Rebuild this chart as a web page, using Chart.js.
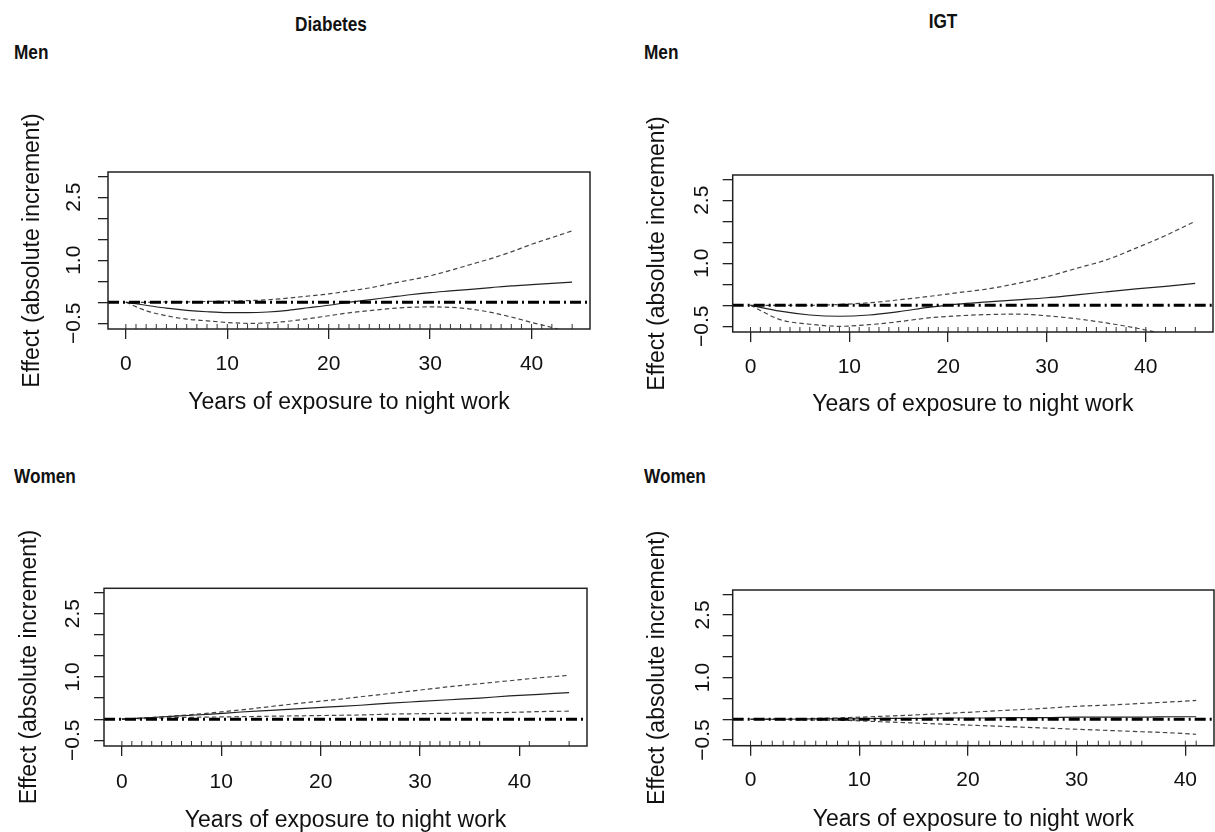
<!DOCTYPE html>
<html>
<head>
<meta charset="utf-8">
<script src="https://cdn.jsdelivr.net/npm/chart.js@4.4.1/dist/chart.umd.min.js"></script>
<style>
  body { margin: 0; background: #fff; width: 1215px; height: 832px; position: relative; overflow: hidden; }
  .lbl { position: absolute; font-family: "Liberation Sans", Arial, sans-serif; font-weight: bold; font-size: 21px; line-height: 21px; color: #111; white-space: nowrap; transform: scaleX(0.82); transform-origin: left center; }
  .ctr { transform-origin: center center; text-align: center; width: 200px; }
  .panel { position: absolute; }
</style>
</head>
<body>
<div class="lbl ctr" style="left:231px; top:13px">Diabetes</div>
<div class="lbl ctr" style="left:843px; top:10px">IGT</div>
<div class="lbl" style="left:14px; top:41px">Men</div>
<div class="lbl" style="left:644px; top:41px">Men</div>
<div class="lbl" style="left:14px; top:465px">Women</div>
<div class="lbl" style="left:644px; top:465px">Women</div>

<div class="panel" style="left:0px; top:100px; width:607px; height:330px"><canvas id="dm"></canvas></div>
<div class="panel" style="left:625px; top:100px; width:590px; height:332px"><canvas id="im"></canvas></div>
<div class="panel" style="left:0px; top:520px; width:600px; height:320px"><canvas id="dw"></canvas></div>
<div class="panel" style="left:625px; top:520px; width:590px; height:320px"><canvas id="iw"></canvas></div>

<script>
// axis values shared by all four panels
const yTicks = [-0.5, 0, 0.5, 1.0, 1.5, 2.0, 2.5, 3.0];
const yTickLabels = ['\u22120.5', '', '', '1.0', '', '', '2.5', ''];
const xTicks = [0, 10, 20, 30, 40];
const yMin = -0.635;
const yMax = 3.1;
const refLine = 0;

// Diabetes, men
const dmYears = [0, 2, 4, 6, 8, 10, 12, 14, 16, 18, 20, 22, 24, 26, 28, 30, 32, 34, 36, 38, 40, 42, 44];
const dmFit = [0, -0.07, -0.14, -0.19, -0.225, -0.245, -0.245, -0.23, -0.19, -0.13, -0.07, 0.0, 0.06, 0.12, 0.18, 0.23, 0.27, 0.31, 0.35, 0.39, 0.42, 0.45, 0.48];
const dmUpper = [0, 0.0, 0.01, 0.01, 0.02, 0.03, 0.04, 0.06, 0.1, 0.15, 0.2, 0.27, 0.34, 0.44, 0.53, 0.63, 0.76, 0.9, 1.04, 1.2, 1.38, 1.54, 1.7];
const dmLower = [0, -0.2, -0.32, -0.4, -0.44, -0.48, -0.5, -0.49, -0.45, -0.39, -0.32, -0.25, -0.2, -0.15, -0.12, -0.11, -0.12, -0.16, -0.24, -0.35, -0.48, -0.6, -0.74];
const dmRug = [0, 1, 2, 3, 4, 5, 6, 7, 8, 9, 10, 11, 12, 13, 14, 15, 16, 17, 18, 19, 20, 21, 22, 23, 24, 25, 26, 27, 28, 29, 30, 31, 32, 33, 34, 35, 36, 37, 38, 39, 40, 41, 42, 44];

// IGT, men
const imYears = [0, 3, 6, 9, 12, 15, 18, 21, 24, 27, 30, 33, 36, 39, 42, 45];
const imFit = [0, -0.14, -0.23, -0.26, -0.23, -0.15, -0.05, 0.03, 0.08, 0.13, 0.18, 0.25, 0.32, 0.39, 0.45, 0.52];
const imUpper = [0, 0.0, 0.0, 0.02, 0.06, 0.13, 0.21, 0.3, 0.39, 0.52, 0.68, 0.88, 1.08, 1.36, 1.66, 2.0];
const imLower = [0, -0.34, -0.45, -0.5, -0.46, -0.39, -0.3, -0.25, -0.22, -0.21, -0.25, -0.32, -0.42, -0.54, -0.7, -0.92];
const imRug = [0, 1, 2, 3, 4, 5, 6, 7, 8, 9, 10, 11, 12, 13, 14, 15, 16, 17, 18, 19, 20, 21, 22, 23, 24, 25, 26, 27, 28, 29, 30, 31, 32, 33, 34, 35, 36, 37, 38, 39, 40, 42, 43, 45];

// Diabetes, women
const dwYears = [0, 3, 6, 9, 12, 15, 18, 21, 24, 27, 30, 33, 36, 39, 42, 45];
const dwFit = [0, 0.04, 0.08, 0.12, 0.17, 0.21, 0.25, 0.29, 0.33, 0.38, 0.42, 0.46, 0.5, 0.55, 0.59, 0.63];
const dwUpper = [0, 0.04, 0.09, 0.15, 0.22, 0.3, 0.38, 0.45, 0.53, 0.61, 0.69, 0.77, 0.84, 0.91, 0.98, 1.04];
const dwLower = [0, 0.02, 0.04, 0.05, 0.06, 0.07, 0.08, 0.09, 0.1, 0.12, 0.13, 0.14, 0.15, 0.16, 0.18, 0.19];
const dwRug = [0, 1, 2, 3, 4, 5, 6, 7, 8, 9, 10, 11, 12, 13, 14, 15, 16, 17, 18, 19, 20, 21, 22, 23, 24, 25, 26, 27, 28, 29, 30, 31, 32, 33, 34, 35, 36, 41, 45];

// IGT, women
const iwYears = [0, 3, 6, 9, 12, 15, 18, 21, 24, 27, 30, 33, 36, 39, 41];
const iwFit = [0, 0.0, 0.01, 0.01, 0.02, 0.02, 0.03, 0.03, 0.04, 0.04, 0.05, 0.05, 0.05, 0.06, 0.06];
const iwUpper = [0, 0.01, 0.02, 0.04, 0.07, 0.1, 0.14, 0.18, 0.22, 0.26, 0.31, 0.34, 0.38, 0.42, 0.45];
const iwLower = [0, -0.01, -0.02, -0.03, -0.06, -0.09, -0.12, -0.15, -0.18, -0.21, -0.24, -0.27, -0.3, -0.33, -0.36];
const iwRug = [0, 1, 2, 3, 4, 5, 6, 7, 8, 9, 10, 11, 12, 13, 14, 15, 16, 17, 18, 19, 20, 21, 22, 23, 24, 25, 26, 27, 28, 29, 30, 31, 32, 33, 34, 35, 36, 40, 41];

const tickFont = { family: '"Liberation Sans", Arial, sans-serif', size: 21 };
const titleFont = { family: '"Liberation Sans", Arial, sans-serif', size: 23 };

// frame round the plot region, like R's box()
const boxPlugin = {
  id: 'box',
  afterDraw(chart) {
    const a = chart.chartArea;
    const ctx = chart.ctx;
    ctx.save();
    ctx.strokeStyle = '#222';
    ctx.lineWidth = 1.5;
    ctx.strokeRect(a.left, a.top, a.right - a.left, a.bottom - a.top);
    ctx.restore();
  }
};

function curve(years, vals, dashed) {
  return {
    data: years.map((x, i) => ({ x: x, y: vals[i] })),
    showLine: true,
    borderColor: dashed ? '#444' : '#222',
    borderWidth: 1.2,
    borderDash: dashed ? [4.5, 3] : [],
    pointRadius: 0,
    cubicInterpolationMode: 'monotone',
    clip: 0
  };
}

function makePanel(id, years, fit, upper, lower, rug, g) {
  const xMax = years[years.length - 1];
  const xLo = -0.04 * xMax;
  const xHi = 1.04 * xMax;
  const gridOpts = { drawOnChartArea: false, drawTicks: true, tickLength: 10, color: '#222', lineWidth: 1.3 };

  new Chart(document.getElementById(id), {
    type: 'scatter',
    data: {
      datasets: [
        {
          data: [{ x: xLo, y: refLine }, { x: xHi, y: refLine }],
          showLine: true,
          borderColor: '#000',
          borderWidth: 3,
          borderDash: [11, 4, 2, 4],
          pointRadius: 0,
          clip: 0
        },
        curve(years, fit, false),
        curve(years, upper, true),
        curve(years, lower, true),
        {
          data: rug.map(x => ({ x: x, y: yMin })),
          pointStyle: 'line',
          pointRotation: 90,
          pointRadius: 5,
          pointBorderWidth: 1,
          pointBorderColor: '#333',
          clip: 0
        }
      ]
    },
    options: {
      responsive: true,
      maintainAspectRatio: false,
      animation: false,
      layout: { padding: { top: g.padTop, right: g.padRight, left: 0, bottom: 0 }, autoPadding: false },
      plugins: { legend: { display: false }, tooltip: { enabled: false } },
      scales: {
        x: {
          type: 'linear',
          min: xLo,
          max: xHi,
          afterBuildTicks: s => { s.ticks = xTicks.map(v => ({ value: v })); },
          afterFit: s => { s.height = g.xHeight; },
          grid: gridOpts,
          border: { display: false },
          ticks: { font: tickFont, color: '#111', padding: g.xTickPad, autoSkip: false, minRotation: 0, maxRotation: 0 },
          title: { display: true, text: 'Years of exposure to night work', font: titleFont, color: '#111', padding: { top: 0, bottom: g.xTitlePad } }
        },
        y: {
          type: 'linear',
          min: yMin,
          max: yMax,
          afterBuildTicks: s => { s.ticks = yTicks.map(v => ({ value: v })); },
          afterFit: s => { s.width = g.yWidth; },
          grid: gridOpts,
          border: { display: false },
          ticks: {
            font: tickFont, color: '#111', padding: g.yTickPad, autoSkip: false,
            minRotation: 90, maxRotation: 90, crossAlign: 'center',
            callback: (v, i) => yTickLabels[i]
          },
          title: { display: true, text: 'Effect (absolute increment)', font: titleFont, color: '#111', padding: { top: g.yTitlePad, bottom: 0 } }
        }
      }
    },
    plugins: [boxPlugin]
  });
}

makePanel('dm', dmYears, dmFit, dmUpper, dmLower, dmRug,
  { padTop: 72, padRight: 17, yWidth: 108, xHeight: 101, xTickPad: 12.3, xTitlePad: 13.3, yTickPad: 2.8, yTitlePad: 19.1 });
makePanel('im', imYears, imFit, imUpper, imLower, imRug,
  { padTop: 75, padRight: 2, yWidth: 107.7, xHeight: 100, xTickPad: 12.5, xTitlePad: 13.3, yTickPad: 0.2, yTitlePad: 19.1 });
makePanel('dw', dwYears, dwFit, dwUpper, dwLower, dwRug,
  { padTop: 68.3, padRight: 13, yWidth: 104, xHeight: 94, xTickPad: 13.5, xTitlePad: 5.3, yTickPad: 0, yTitlePad: 16 });
makePanel('iw', iwYears, iwFit, iwUpper, iwLower, iwRug,
  { padTop: 70, padRight: 1, yWidth: 107.7, xHeight: 94.3, xTickPad: 12.3, xTitlePad: 6.8, yTickPad: -1, yTitlePad: 19.1 });
</script>
</body>
</html>
